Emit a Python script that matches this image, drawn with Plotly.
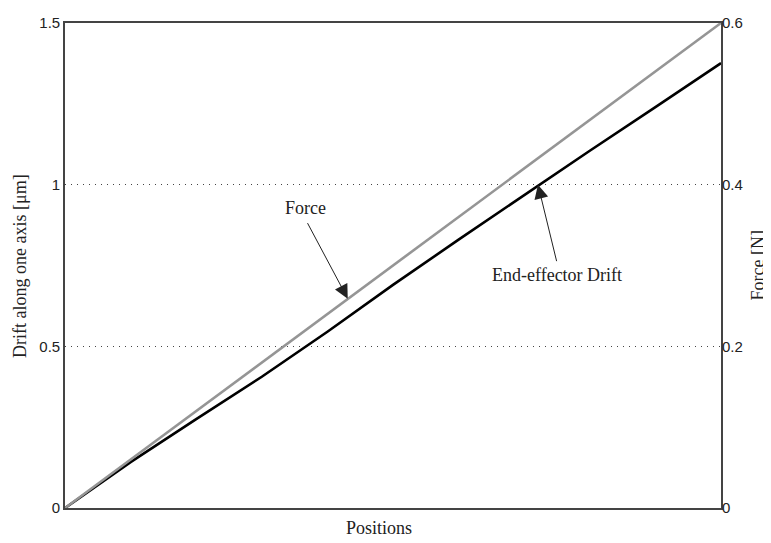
import plotly.graph_objects as go

positions = [0, 1, 2, 3, 4, 5, 6, 7, 8, 9, 10]
drift_um = [0.0, 0.142, 0.275, 0.406, 0.545, 0.69, 0.83, 0.968, 1.105, 1.24, 1.376]
force_n = [0.0, 0.06, 0.12, 0.18, 0.24, 0.30, 0.36, 0.42, 0.48, 0.54, 0.60]

left_ticks = [0, 0.5, 1, 1.5]
left_ticktext = ["0", "0.5", "1", "1.5"]
right_ticks = [0, 0.2, 0.4, 0.6]
right_ticktext = ["0", "0.2", "0.4", "0.6"]

serif = "Liberation Serif, Times New Roman, serif"
sans = "Liberation Sans, Arial, sans-serif"
txt = "#222"

fig = go.Figure()
fig.add_trace(go.Scatter(x=positions, y=force_n, yaxis="y2", mode="lines",
                         line=dict(color="#959595", width=2.6), name="Force"))
fig.add_trace(go.Scatter(x=positions, y=drift_um, mode="lines",
                         line=dict(color="#000000", width=2.6), name="End-effector Drift"))

fig.update_layout(
    width=763, height=535,
    margin=dict(l=57, r=50, t=15, b=35, autoexpand=False),
    paper_bgcolor="white", plot_bgcolor="white",
    showlegend=False,
    xaxis=dict(range=[0, 10], showticklabels=False, ticks="", showgrid=False, zeroline=False,
               showline=True, linecolor="#444", linewidth=1.6, mirror=True, automargin=False),
    yaxis=dict(range=[0, 1.5], tickvals=left_ticks, ticktext=left_ticktext, ticks="",
               tickfont=dict(family=sans, size=15, color=txt),
               showgrid=True, gridcolor="#444", griddash="1px,5px", gridwidth=1,
               zeroline=False, showline=True, linecolor="#444", linewidth=1.6, mirror=True,
               automargin=False),
    yaxis2=dict(range=[0, 0.6], overlaying="y", side="right", tickvals=right_ticks, ticktext=right_ticktext,
                ticks="", tickfont=dict(family=sans, size=15, color=txt),
                showgrid=False, zeroline=False, showline=False, automargin=False),
)

# axis titles
fig.add_annotation(text="Drift along one axis [μm]", xref="paper", yref="paper", x=-0.0695, y=0.5,
                   textangle=-90, showarrow=False, xanchor="center", yanchor="middle",
                   font=dict(family=serif, size=18, color=txt))
fig.add_annotation(text="Force [N]", xref="paper", yref="paper", x=1.055, y=0.5,
                   textangle=-90, showarrow=False, xanchor="center", yanchor="middle",
                   font=dict(family=serif, size=18, color=txt))
fig.add_annotation(text="Positions", xref="paper", yref="paper", x=0.479, y=-0.041,
                   showarrow=False, xanchor="center", yanchor="middle",
                   font=dict(family=serif, size=18, color=txt))

# callouts
fig.add_annotation(x=4.31, y=0.259, xref="x", yref="y2", text="", showarrow=True,
                   ax=-41, ay=-77, arrowhead=2, arrowsize=2.8, arrowwidth=1, arrowcolor="#222")
fig.add_annotation(x=3.66, y=0.928, xref="x", yref="y", text="Force", showarrow=False,
                   font=dict(family=serif, size=18, color=txt))
fig.add_annotation(x=7.21, y=1.0, xref="x", yref="y", text="", showarrow=True,
                   ax=19, ay=78, arrowhead=2, arrowsize=2.8, arrowwidth=1, arrowcolor="#222")
fig.add_annotation(x=7.5, y=0.72, xref="x", yref="y", text="End-effector Drift", showarrow=False,
                   font=dict(family=serif, size=18, color=txt))

fig.write_html("out.html")
